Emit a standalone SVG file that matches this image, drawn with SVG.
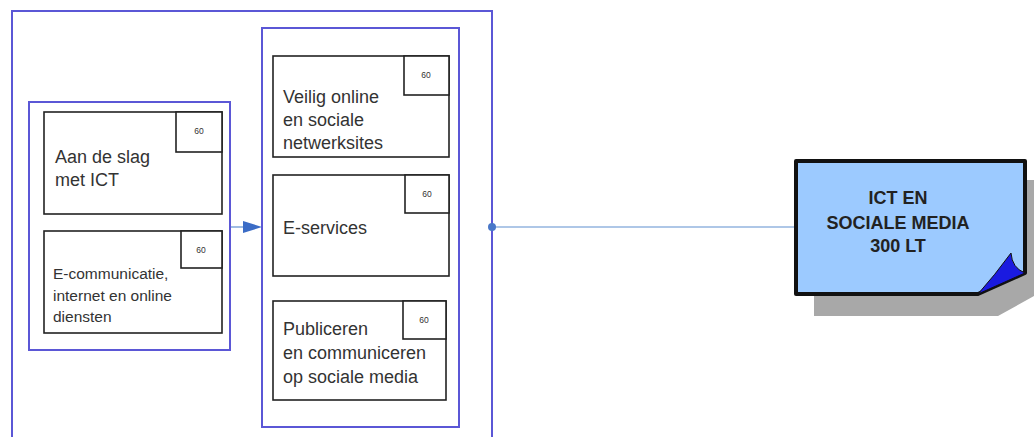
<svg xmlns="http://www.w3.org/2000/svg" width="1035" height="437" viewBox="0 0 1035 437">
<defs>
<style>
.cont{fill:none;stroke:#5b57d6;stroke-width:2}
.box{fill:#fff;stroke:#222;stroke-width:1.6}
.t{font-family:"Liberation Sans",Arial,sans-serif;fill:#333}
.big{font-size:18px}
.med{font-size:15.5px}
.sm{font-size:8.5px;text-anchor:middle}
.conn{stroke:#5f8fd0;stroke-width:1.2;fill:none}
.title{font-size:18px;font-weight:bold;text-anchor:middle;fill:#222}
</style>
</defs>
<rect width="1035" height="437" fill="#fff"/>
<g id="containers">
<rect class="cont" x="12" y="11" width="480" height="440"/>
<rect class="cont" x="262" y="28" width="197" height="399"/>
<rect class="cont" x="29" y="102" width="201" height="248"/>
</g>
<g id="connectors">
<line class="conn" x1="231" y1="227" x2="245" y2="227"/>
<path d="M243,221 L262,227 L243,233 z" fill="#3b6cc6"/>
<line class="conn" x1="492" y1="227" x2="797" y2="227"/>
<circle cx="492" cy="227" r="4" fill="#4a78c8"/>
</g>
<g id="n1">
<rect class="box" x="44" y="112" width="178" height="102"/>
<rect class="box" x="176" y="112" width="46" height="40"/>
<text class="t sm" x="199" y="134">60</text>
<text class="t big" x="55" y="163">Aan de slag</text>
<text class="t big" x="55" y="186">met ICT</text>
</g>
<g id="n2">
<rect class="box" x="44" y="231" width="178" height="102"/>
<rect class="box" x="181" y="231" width="41" height="37"/>
<text class="t sm" x="201" y="253">60</text>
<text class="t med" x="53" y="279">E-communicatie,</text>
<text class="t med" x="53" y="301">internet en online</text>
<text class="t med" x="53" y="322">diensten</text>
</g>
<g id="n3">
<rect class="box" x="273" y="56" width="176" height="101"/>
<rect class="box" x="404" y="56" width="45" height="39"/>
<text class="t sm" x="426" y="78">60</text>
<text class="t big" x="283" y="103">Veilig online</text>
<text class="t big" x="283" y="126">en sociale</text>
<text class="t big" x="283" y="149">netwerksites</text>
</g>
<g id="n4">
<rect class="box" x="273" y="175" width="176" height="101"/>
<rect class="box" x="405" y="175" width="44" height="38"/>
<text class="t sm" x="427" y="197">60</text>
<text class="t big" x="283" y="234">E-services</text>
</g>
<g id="n5">
<rect class="box" x="273" y="301" width="173" height="99"/>
<rect class="box" x="403" y="301" width="43" height="38"/>
<text class="t sm" x="424" y="323">60</text>
<text class="t big" x="283" y="335">Publiceren</text>
<text class="t big" x="283" y="359">en communiceren</text>
<text class="t big" x="283" y="383">op sociale media</text>
</g>
<g id="n6">
<path d="M814,294 L814,316 L998,316 L1034,296 L1034,180 L1025,180 L1025,273 L978,294 z" fill="#a8a8a8"/>
<path d="M796,161 L1025,161 L1025,273 L978,294 L796,294 z" fill="#9ccaff" stroke="#111" stroke-width="4" stroke-linejoin="round"/>
<path d="M978,294 L1025,273 Q1012,268 1011,253 Q995,275 978,294 z" fill="#1a1ae0" stroke="#111" stroke-width="1"/>
<text class="t title" x="898" y="204">ICT EN</text>
<text class="t title" x="898" y="229">SOCIALE MEDIA</text>
<text class="t title" x="898" y="252">300 LT</text>
</g>
</svg>
